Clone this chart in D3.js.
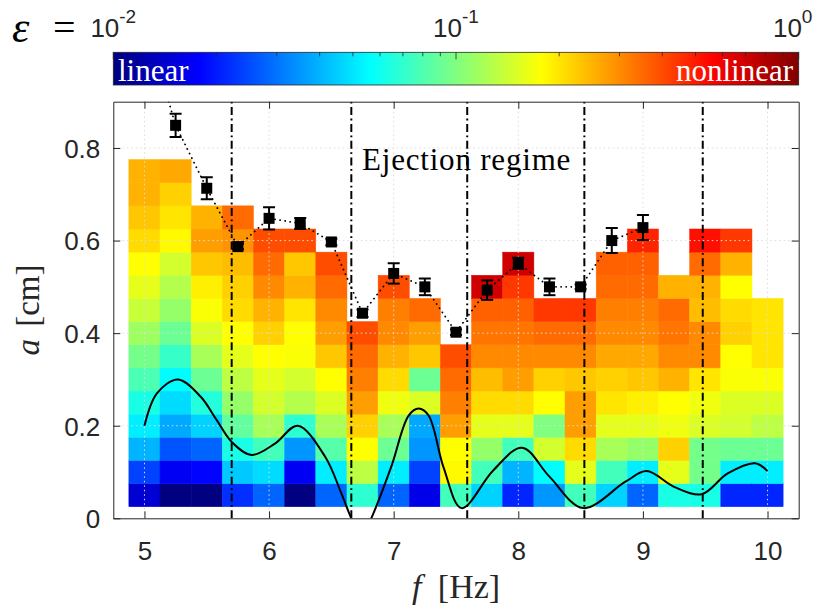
<!DOCTYPE html>
<html>
<head>
<meta charset="utf-8">
<script src="https://cdn.jsdelivr.net/npm/d3@7"></script>
<style>
    body {margin: 0; background: #fff;}
    svg {display: block;}
</style>
</head>
<body>
<div class="wrapper"></div>
<script>
// ---- data ----
let freqs = [5, 5.25, 5.5, 5.75, 6, 6.25, 6.5, 6.75, 7, 7.25, 7.5, 7.75, 8, 8.25, 8.5, 8.75, 9, 9.25, 9.5, 9.75, 10];
let aRows = [0.05, 0.10, 0.15, 0.20, 0.25, 0.30, 0.35, 0.40, 0.45, 0.50, 0.55, 0.60, 0.65, 0.70, 0.75];

// epsilon per column, bottom row first
let epsilon = [
    [0.0145, 0.024, 0.040, 0.052, 0.063, 0.079, 0.095, 0.115, 0.138, 0.158, 0.178, 0.209, 0.229, 0.251, 0.251],
    [0.010, 0.017, 0.026, 0.038, 0.048, 0.056, 0.072, 0.091, 0.110, 0.126, 0.145, 0.182, 0.200, 0.219, 0.263],
    [0.010, 0.018, 0.028, 0.046, 0.066, 0.091, 0.120, 0.151, 0.174, 0.191, 0.229, 0.275, 0.251],
    [0.022, 0.044, 0.063, 0.087, 0.110, 0.132, 0.158, 0.178, 0.209, 0.219, 0.240, 0.288, 0.347],
    [0.028, 0.048, 0.076, 0.120, 0.145, 0.158, 0.178, 0.219, 0.251, 0.302, 0.347, 0.398],
    [0.010, 0.017, 0.035, 0.069, 0.126, 0.145, 0.174, 0.178, 0.200, 0.251, 0.229, 0.398],
    [0.028, 0.052, 0.083, 0.120, 0.151, 0.178, 0.229, 0.275, 0.302, 0.347, 0.398],
    [0.069, 0.132, 0.178, 0.219, 0.275, 0.316, 0.347, 0.398],
    [0.028, 0.052, 0.091, 0.120, 0.166, 0.209, 0.251, 0.302, 0.316, 0.398],
    [0.016, 0.024, 0.035, 0.038, 0.151, 0.091, 0.229, 0.275, 0.347],
    [0.076, 0.182, 0.178, 0.275, 0.316, 0.347, 0.398],
    [0.046, 0.076, 0.110, 0.158, 0.209, 0.240, 0.302, 0.331, 0.363, 0.692],
    [0.021, 0.040, 0.076, 0.158, 0.209, 0.275, 0.302, 0.331, 0.363, 0.437, 0.692],
    [0.035, 0.056, 0.145, 0.100, 0.178, 0.219, 0.302, 0.347, 0.437],
    [0.076, 0.158, 0.209, 0.275, 0.275, 0.229, 0.302, 0.347, 0.437],
    [0.046, 0.076, 0.120, 0.158, 0.200, 0.219, 0.263, 0.302, 0.316, 0.347, 0.363],
    [0.028, 0.052, 0.110, 0.158, 0.191, 0.229, 0.263, 0.302, 0.316, 0.347, 0.363, 0.479],
    [0.063, 0.158, 0.219, 0.166, 0.178, 0.251, 0.302, 0.331, 0.347, 0.251],
    [0.063, 0.095, 0.095, 0.151, 0.166, 0.200, 0.302, 0.302, 0.240, 0.251, 0.347, 0.525],
    [0.021, 0.052, 0.091, 0.145, 0.151, 0.174, 0.178, 0.219, 0.209, 0.178, 0.251, 0.437],
    [0.021, 0.052, 0.091, 0.132, 0.151, 0.174, 0.200, 0.200, 0.200]
];

// ejection threshold (squares, dotted line)
let markerF = [5, 5.25, 5.5, 5.75, 6, 6.25, 6.5, 6.75, 7, 7.25, 7.5, 7.75, 8, 8.25, 8.5, 8.75, 9];
let markerA = [1.08, 0.849, 0.713, 0.587, 0.648, 0.637, 0.597, 0.443, 0.529, 0.500, 0.402, 0.493, 0.551, 0.500, 0.500, 0.600, 0.628];
let markerErr = [0, 0.025, 0.024, 0.006, 0.024, 0.012, 0.007, 0.008, 0.022, 0.018, 0.006, 0.021, 0.012, 0.018, 0.005, 0.027, 0.027];

// solid black curve
let curveF = [5.0, 5.1, 5.27, 5.45, 5.58, 5.7, 5.86, 6.05, 6.23, 6.45, 6.58, 6.66, 6.74, 6.82, 6.98, 7.12, 7.2, 7.28, 7.4, 7.545, 7.8, 8.03, 8.25, 8.52, 8.86, 9.03, 9.25, 9.47, 9.68, 9.9, 10.0];
let curveA = [0.20, 0.27, 0.30, 0.263, 0.212, 0.165, 0.137, 0.162, 0.20, 0.133, 0.054, 0.0, -0.04, 0.0, 0.111, 0.222, 0.237, 0.222, 0.11, 0.022, 0.104, 0.1525, 0.09, 0.022, 0.079, 0.102, 0.068, 0.052, 0.097, 0.119, 0.102];

// dash-dot regime boundaries
let regimeF = [5.70, 6.66, 7.59, 8.53, 9.48];

let xTicks = [5, 6, 7, 8, 9, 10];
let yTicks = [0, 0.2, 0.4, 0.6, 0.8];
let cbarTicks = [0.01, 0.1, 1];

// ---- drawing ----
let axisColor = "#262626";
let sans = "'Liberation Sans', Arial, sans-serif";
let serif = "'Liberation Serif', 'Times New Roman', serif";

let svg = d3.select(".wrapper")
    .append("svg")
    .attr("width", 823)
    .attr("height", 608);

let x = d3.scaleLinear().domain([4.75, 10.25]).range([113.3, 798.7]);
let y = d3.scaleLinear().domain([0, 0.9]).range([518.3, 101.7]);

let jetStops = [0, 0.125, 0.375, 0.625, 0.875, 1];
let jetColors = ["#000080", "#0000ff", "#00ffff", "#ffff00", "#ff0000", "#800000"];
let jet = d3.scaleLinear().domain(jetStops).range(jetColors).clamp(true);
let cbar = d3.scaleLog().domain([0.01, 1]).range([113.3, 798.7]);
let toT = d3.scaleLog().domain([0.01, 1]).range([0, 1]);

let defs = svg.append("defs");
defs.append("clipPath").attr("id", "plotClip")
    .append("rect")
    .attr("x", x.range()[0]).attr("y", y.range()[1])
    .attr("width", x.range()[1] - x.range()[0])
    .attr("height", y.range()[0] - y.range()[1]);

let grad = defs.append("linearGradient").attr("id", "jetGrad")
    .attr("x1", "0%").attr("x2", "100%").attr("y1", "0%").attr("y2", "0%");
jetStops.forEach(function (s, i) {
    grad.append("stop").attr("offset", (s * 100) + "%").attr("stop-color", jetColors[i]);
});

// cells
let halfF = (freqs[1] - freqs[0]) / 2;
let halfA = (aRows[1] - aRows[0]) / 2;
let cells = [];
freqs.forEach(function (f, i) {
    epsilon[i].forEach(function (e, k) {
        cells.push({f: f, a: aRows[k], e: e});
    });
});

svg.append("g").selectAll("rect")
    .data(cells)
    .join("rect")
    .attr("x", d => x(d.f - halfF))
    .attr("width", d => x(d.f + halfF) - x(d.f - halfF))
    .attr("y", d => y(d.a + halfA))
    .attr("height", d => y(d.a - halfA) - y(d.a + halfA))
    .attr("fill", d => jet(toT(d.e)))
    .attr("stroke", d => jet(toT(d.e)))
    .attr("stroke-width", 0.5);

// grid
let grid = svg.append("g")
    .attr("stroke", "#dcdcdc")
    .attr("stroke-width", 1)
    .attr("stroke-dasharray", "1.5,3");
grid.selectAll(".gx").data(xTicks).join("line")
    .attr("x1", d => x(d)).attr("x2", d => x(d))
    .attr("y1", y.range()[0]).attr("y2", y.range()[1]);
grid.selectAll(".gy").data(yTicks.slice(1)).join("line")
    .attr("y1", d => y(d)).attr("y2", d => y(d))
    .attr("x1", x.range()[0]).attr("x2", x.range()[1]);

let plot = svg.append("g").attr("clip-path", "url(#plotClip)");

// regime lines
plot.selectAll(".regime").data(regimeF).join("line")
    .attr("x1", d => x(d)).attr("x2", d => x(d))
    .attr("y1", y.range()[0]).attr("y2", y.range()[1])
    .attr("stroke", "#000")
    .attr("stroke-width", 2)
    .attr("stroke-dasharray", "8,3.5,1.8,3.5");

// curve
let curvePts = curveF.map((f, i) => [f, curveA[i]]);
plot.append("path")
    .attr("d", d3.line().x(d => x(d[0])).y(d => y(d[1])).curve(d3.curveCatmullRom.alpha(0.5))(curvePts))
    .attr("fill", "none")
    .attr("stroke", "#000")
    .attr("stroke-width", 2);

// dotted threshold line
let markPts = markerF.map((f, i) => [f, markerA[i], markerErr[i]]);
plot.append("path")
    .attr("d", d3.line().x(d => x(d[0])).y(d => y(d[1]))(markPts))
    .attr("fill", "none")
    .attr("stroke", "#000")
    .attr("stroke-width", 1.8)
    .attr("stroke-linecap", "round")
    .attr("stroke-dasharray", "0.1,5");

// error bars + squares
let marks = plot.append("g").selectAll("g").data(markPts).join("g");
marks.append("line")
    .attr("x1", d => x(d[0])).attr("x2", d => x(d[0]))
    .attr("y1", d => y(d[1] - d[2])).attr("y2", d => y(d[1] + d[2]))
    .attr("stroke", "#000").attr("stroke-width", 2);
marks.append("line")
    .attr("x1", d => x(d[0]) - 6).attr("x2", d => x(d[0]) + 6)
    .attr("y1", d => y(d[1] + d[2])).attr("y2", d => y(d[1] + d[2]))
    .attr("stroke", "#000").attr("stroke-width", 2);
marks.append("line")
    .attr("x1", d => x(d[0]) - 6).attr("x2", d => x(d[0]) + 6)
    .attr("y1", d => y(d[1] - d[2])).attr("y2", d => y(d[1] - d[2]))
    .attr("stroke", "#000").attr("stroke-width", 2);
marks.append("rect")
    .attr("x", d => x(d[0]) - 5.5).attr("y", d => y(d[1]) - 5.5)
    .attr("width", 11).attr("height", 11)
    .attr("fill", "#000");

// annotation
svg.append("text")
    .attr("x", 362).attr("y", 170)
    .attr("font-family", serif)
    .attr("font-size", 31)
    .attr("letter-spacing", 0.8)
    .attr("fill", "#000")
    .text("Ejection regime");

// axes
function styleAxis(g) {
    g.select(".domain").attr("stroke", axisColor);
    g.selectAll(".tick line").attr("stroke", axisColor);
    g.selectAll("text").attr("font-family", sans).attr("font-size", 26).attr("fill", axisColor);
}

let xAxis = svg.append("g")
    .attr("transform", "translate(0," + y.range()[0] + ")")
    .call(d3.axisBottom(x).tickValues(xTicks).tickSizeInner(-7).tickSizeOuter(0).tickFormat(d3.format("d")))
    .call(styleAxis);
xAxis.selectAll("text").attr("y", 42).attr("dy", 0);

svg.append("g")
    .attr("transform", "translate(0," + y.range()[1] + ")")
    .call(d3.axisTop(x).tickValues(xTicks).tickSizeInner(-7).tickSizeOuter(0).tickFormat(""))
    .call(styleAxis);

let yAxis = svg.append("g")
    .attr("transform", "translate(" + x.range()[0] + ",0)")
    .call(d3.axisLeft(y).tickValues(yTicks).tickSizeInner(-7).tickSizeOuter(0).tickFormat(d3.format("")))
    .call(styleAxis);
yAxis.selectAll("text").attr("x", -13).attr("dy", "0.36em");

svg.append("g")
    .attr("transform", "translate(" + x.range()[1] + ",0)")
    .call(d3.axisRight(y).tickValues(yTicks).tickSizeInner(-7).tickSizeOuter(0).tickFormat(""))
    .call(styleAxis);

// axis labels
let xLab = svg.append("text")
    .attr("x", (x.range()[0] + x.range()[1]) / 2).attr("y", 598)
    .attr("text-anchor", "middle")
    .attr("font-family", serif).attr("font-size", 34).attr("fill", axisColor);
xLab.append("tspan").attr("font-style", "italic").text("f");
xLab.append("tspan").attr("dx", 8).text(" [Hz]");

let yLab = svg.append("text")
    .attr("transform", "translate(39," + ((y.range()[0] + y.range()[1]) / 2) + ") rotate(-90)")
    .attr("text-anchor", "middle")
    .attr("font-family", serif).attr("font-size", 33).attr("fill", axisColor);
yLab.append("tspan").attr("font-style", "italic").text("a");
yLab.append("tspan").attr("dx", 4).text(" [cm]");

// colorbar
let cbTop = 52.3, cbH = 32.7;
svg.append("rect")
    .attr("x", cbar.range()[0]).attr("y", cbTop)
    .attr("width", cbar.range()[1] - cbar.range()[0]).attr("height", cbH)
    .attr("fill", "url(#jetGrad)")
    .attr("stroke", axisColor).attr("stroke-width", 0.8);

svg.append("g").selectAll("line")
    .data(cbar.ticks())
    .join("line")
    .attr("x1", d => cbar(d)).attr("x2", d => cbar(d))
    .attr("y1", cbTop)
    .attr("y2", d => cbTop + (cbarTicks.indexOf(d) >= 0 ? 7 : 4))
    .attr("stroke", axisColor).attr("stroke-width", 0.8);

let cbLab = svg.append("g").selectAll("text")
    .data(cbarTicks)
    .join("text")
    .attr("x", (d, i) => cbar(d) - (i === cbarTicks.length - 1 ? 6 : 0))
    .attr("y", 37)
    .attr("text-anchor", "middle")
    .attr("font-family", sans).attr("font-size", 26).attr("fill", axisColor);
cbLab.append("tspan").text("10");
cbLab.append("tspan").attr("dy", -14).attr("font-size", 19).text(d => String(Math.round(Math.log10(d))));

svg.append("text")
    .attr("x", 118).attr("y", 81)
    .attr("font-family", serif).attr("font-size", 31).attr("fill", "#fff")
    .text("linear");
svg.append("text")
    .attr("x", 793).attr("y", 81)
    .attr("text-anchor", "end")
    .attr("font-family", serif).attr("font-size", 31).attr("fill", "#fff")
    .text("nonlinear");

svg.append("text")
    .attr("x", 12).attr("y", 42)
    .attr("font-family", serif).attr("font-size", 44).attr("font-style", "italic")
    .attr("fill", "#000")
    .text("ε");
svg.append("text")
    .attr("x", 53).attr("y", 41)
    .attr("font-family", serif).attr("font-size", 40)
    .attr("fill", "#000")
    .text("=");
</script>
</body>
</html>
